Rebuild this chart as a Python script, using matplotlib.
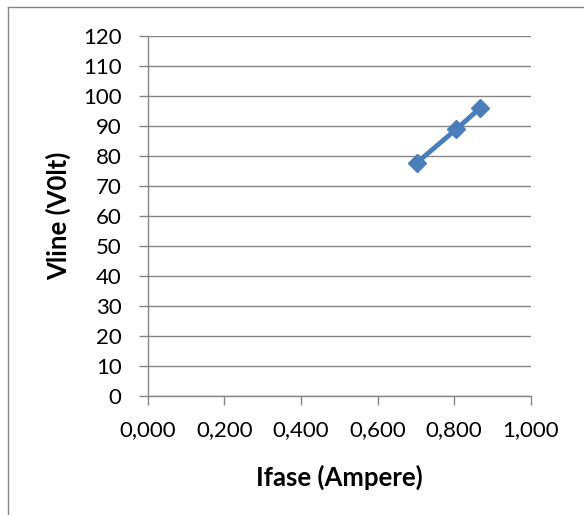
import matplotlib
matplotlib.use("Agg")
import matplotlib.pyplot as plt
from matplotlib.lines import Line2D
from matplotlib.ticker import FuncFormatter, MultipleLocator

# data
ifase = [0.702, 0.805, 0.867]
vline = [77.6, 88.8, 95.8]

x_label = "Ifase (Ampere)"
y_label = "Vline (V0lt)"

plt.rcParams['font.family'] = ['Lato', 'DejaVu Sans']

fig = plt.figure(figsize=(5.84, 5.15), dpi=100)
ax = fig.add_axes([147.7 / 584, 1 - 396 / 515, 383 / 584, (396 - 35.7) / 515])

grid_col = '#868686'
ax.set_xlim(0, 1.0)
ax.set_ylim(0, 120)
ax.xaxis.set_major_locator(MultipleLocator(0.2))
ax.yaxis.set_major_locator(MultipleLocator(10))
ax.xaxis.set_major_formatter(FuncFormatter(lambda v, p: f"{v:.3f}".replace('.', ',')))
ax.grid(axis='y', color=grid_col, linewidth=1.0)
ax.set_axisbelow(True)
for s in ['top', 'right']:
    ax.spines[s].set_visible(False)
for s in ['left', 'bottom']:
    ax.spines[s].set_color(grid_col)
    ax.spines[s].set_linewidth(1.0)
ax.tick_params(axis='both', colors=grid_col, length=6.2, width=1.0, labelcolor='black', labelsize=16)
ax.tick_params(axis='x', pad=11.5)
ax.tick_params(axis='y', pad=12.5)

ax.plot(ifase, vline, color='#4A7EBB', linewidth=3.5, marker='D', markersize=9.5,
        markerfacecolor='#4A7EBB', markeredgecolor='#4A7EBB', clip_on=False, zorder=3)

ax.set_xlabel(x_label, fontsize=18.5, fontweight='bold')
ax.set_ylabel(y_label, fontsize=18.5, fontweight='bold')
ax.xaxis.set_label_coords(0.5, -0.226)
ax.xaxis.label.set_va('center')
ax.yaxis.set_label_coords(-0.232, 0.5)
ax.yaxis.label.set_va('center')
ax.yaxis.label.set_ha('center')

# chart frame (only top and left edges visible in the crop)
fig.add_artist(Line2D([7.5 / 584, 1.0], [1 - 6.5 / 515, 1 - 6.5 / 515], color=grid_col, linewidth=1.0,
                      transform=fig.transFigure))
fig.add_artist(Line2D([7.5 / 584, 7.5 / 584], [0, 1 - 6.5 / 515], color=grid_col, linewidth=1.0,
                      transform=fig.transFigure))

fig.savefig('out.png', dpi=100)
